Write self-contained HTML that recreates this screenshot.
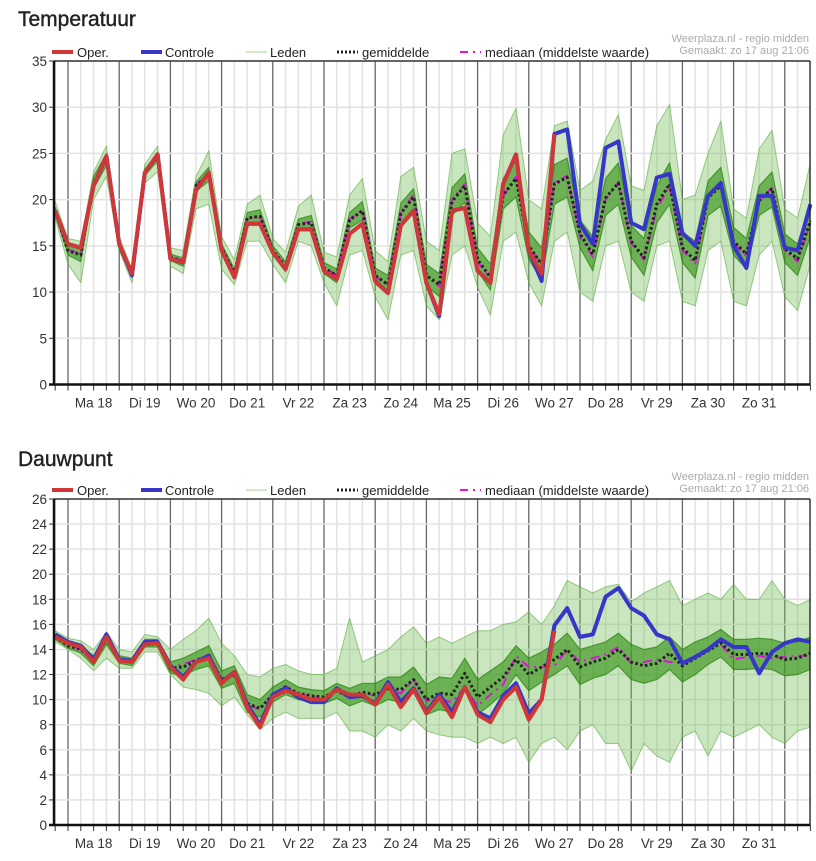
<!DOCTYPE html>
<html><head><meta charset="utf-8"><style>
body{margin:0;background:#fff;font-family:"Liberation Sans",sans-serif;}
svg text{font-family:"Liberation Sans",sans-serif;}
</style></head><body>
<svg id="s" width="816" height="856" xmlns="http://www.w3.org/2000/svg"></svg>
<script>
const days = ["Ma 18","Di 19","Wo 20","Do 21","Vr 22","Za 23","Zo 24","Ma 25","Di 26","Wo 27","Do 28","Vr 29","Za 30","Zo 31"];
const tempOper = [18.8,15.2,14.8,21.5,24.7,15.2,12.0,22.9,24.9,13.6,13.2,21.0,22.9,14.5,11.6,17.4,17.4,14.3,12.5,16.8,16.8,12.3,11.4,16.3,17.4,11.2,9.9,17.2,18.8,11.0,7.6,18.8,19.1,12.3,11.0,21.7,24.9,14.5,12.0,27.1];
const tempCtrl = [18.8,15.2,14.8,21.5,24.7,15.2,11.8,22.9,24.9,13.6,13.2,21.0,22.9,14.5,11.6,17.4,17.4,14.3,12.5,16.8,16.8,12.3,11.4,16.3,17.4,11.2,9.9,17.2,18.8,11.0,7.4,18.8,19.1,12.3,11.0,21.7,24.9,14.5,11.2,27.1,27.6,17.4,15.2,25.6,26.3,17.5,16.8,22.4,22.8,16.4,15.0,20.4,21.8,15.0,12.6,20.4,20.4,14.8,14.5,19.5];
const tempMean = [18.8,14.5,14.0,21.8,24.3,15.0,12.0,23.0,24.6,13.8,13.3,21.5,22.7,14.8,12.0,18.0,18.2,14.5,12.8,17.3,17.5,12.6,11.8,17.8,18.8,11.8,10.8,18.5,20.3,11.8,10.8,19.8,21.5,13.5,11.6,20.5,22.3,15.0,13.0,21.7,22.4,16.3,14.1,20.2,21.8,15.5,13.7,19.5,21.7,14.8,13.4,20.2,21.5,15.5,14.1,19.9,21.2,14.7,13.6,17.7];
const tempMedian = [18.8,14.6,14.1,21.8,24.4,15.0,12.0,23.0,24.7,13.8,13.4,21.6,22.8,14.8,12.0,17.9,18.2,14.5,12.8,17.4,17.6,12.7,11.8,17.9,18.9,11.7,10.7,18.6,20.5,11.7,10.6,20.0,21.7,13.3,11.4,20.4,22.5,15.1,12.9,21.8,22.6,16.0,13.8,20.0,21.9,15.3,13.5,19.0,21.5,14.6,13.0,20.3,21.6,15.3,13.9,19.8,21.3,14.5,13.3,17.5];
const tempMax = [19.8,15.8,15.5,23.0,25.8,16.0,12.5,23.8,25.8,14.8,14.5,22.5,25.3,16.0,13.5,19.5,20.5,15.8,14.3,19.3,20.5,14.3,13.8,20.5,22.3,14.5,13.3,22.5,23.5,15.5,14.5,25.0,25.5,17.5,16.0,27.0,29.9,20.0,19.0,28.0,28.5,21.0,22.0,26.5,29.2,21.5,21.0,28.0,30.3,20.0,20.5,25.0,28.5,19.0,18.0,25.5,27.5,19.0,18.0,24.0];
const tempMin = [18.0,13.0,11.0,20.0,22.5,14.5,11.0,21.8,23.0,12.8,12.0,19.0,19.5,12.5,10.8,15.5,15.5,13.0,11.0,15.5,15.0,11.0,8.5,14.0,14.5,9.5,7.0,14.0,14.5,8.5,7.0,14.0,15.0,10.5,7.5,15.5,16.5,11.0,8.5,15.5,16.5,10.0,9.0,15.0,15.5,10.0,9.0,15.0,15.5,9.0,8.5,14.5,15.5,9.0,8.5,14.0,15.5,9.5,8.0,13.0];
const tempHi = [19.2,15.0,14.7,22.5,25.0,15.5,12.3,23.3,25.0,14.1,13.7,21.9,23.5,15.2,12.5,18.6,18.9,15.0,13.3,17.9,18.3,13.2,12.5,18.6,19.8,12.6,11.8,19.6,21.2,13.0,12.0,21.3,22.8,14.8,13.0,22.3,24.3,16.5,14.8,23.8,24.5,17.8,16.0,22.3,24.0,17.2,15.8,21.5,24.0,16.5,15.5,22.0,23.5,17.0,15.8,21.5,23.0,16.3,15.2,19.5];
const tempLo = [18.4,14.0,13.3,21.2,23.7,14.7,11.6,22.6,24.2,13.4,12.8,20.9,22.0,14.2,11.4,17.3,17.4,14.0,12.2,16.7,16.6,12.0,11.0,16.9,17.8,10.9,9.7,17.3,18.8,10.7,9.5,18.3,19.7,12.3,10.2,19.0,20.3,13.5,11.3,19.5,20.3,14.8,12.3,18.3,19.5,13.8,11.8,17.5,19.5,13.2,11.5,18.3,19.3,14.0,12.5,18.3,19.2,13.2,11.8,16.0];
const dewOper = [15.0,14.5,14.2,13.0,15.0,13.1,13.0,14.4,14.5,12.6,11.6,13.0,13.3,11.3,12.2,9.4,7.8,10.2,10.7,10.4,10.0,10.0,10.8,10.4,10.4,9.6,11.2,9.4,10.8,8.9,10.2,8.6,11.0,8.8,8.2,10.0,11.0,8.4,10.0,15.5];
const dewCtrl = [15.2,14.6,14.3,13.2,15.2,13.2,13.1,14.6,14.6,12.7,11.8,13.0,13.5,11.4,12.2,9.6,8.0,10.4,10.9,10.2,9.8,9.8,10.9,10.2,10.3,9.7,11.4,9.8,10.9,9.0,10.4,9.0,11.0,9.0,8.5,10.3,11.3,8.9,10.0,15.9,17.3,15.0,15.2,18.2,18.9,17.3,16.7,15.2,14.8,12.9,13.4,14.0,14.8,14.2,14.2,12.1,13.8,14.5,14.8,14.6];
const dewMean = [15.0,14.3,14.0,13.1,14.8,13.2,13.0,14.5,14.5,12.5,12.6,13.1,13.5,11.6,12.0,9.7,9.3,10.4,11.0,10.5,10.3,10.2,10.7,10.2,10.6,10.4,10.9,10.8,11.6,10.0,10.5,10.4,12.1,10.2,11.0,11.8,13.2,12.0,12.6,13.2,14.0,12.6,13.0,13.3,14.0,13.0,12.7,12.9,13.7,12.7,13.3,13.9,14.5,13.6,13.6,13.7,13.6,13.2,13.3,13.7];
const dewMedian = [15.0,14.4,14.0,13.0,14.9,13.1,13.0,14.5,14.4,12.6,12.8,13.2,13.6,11.5,12.0,9.6,9.2,10.3,11.1,10.4,10.3,10.1,10.8,10.1,10.5,10.3,10.7,10.5,11.6,9.9,10.0,9.8,11.0,9.5,10.4,11.2,13.5,12.6,12.6,12.7,14.0,13.0,13.3,13.6,14.2,12.9,13.0,13.2,13.0,12.9,13.5,14.0,14.4,13.2,13.4,13.5,13.3,13.4,13.5,13.5];
const dewMax = [15.5,14.9,14.7,14.0,15.4,14.0,13.8,15.2,15.0,14.0,14.8,15.5,16.5,14.5,13.5,12.0,11.8,12.5,12.8,12.3,12.0,12.0,12.5,16.5,13.0,13.5,14.0,15.0,15.8,14.5,15.0,14.5,15.0,15.5,15.5,16.0,16.2,17.0,16.0,17.5,19.5,19.0,18.5,19.0,19.2,17.8,18.5,19.0,19.5,17.5,18.0,18.5,18.0,19.2,18.0,18.0,19.5,18.0,17.5,18.0];
const dewMin = [14.6,14.0,13.3,12.3,13.3,12.5,12.5,13.8,13.8,12.0,11.0,10.8,10.5,9.5,10.2,8.8,7.6,8.5,9.0,8.5,8.5,8.5,9.0,7.5,7.5,7.0,8.0,7.5,8.5,7.5,7.2,7.0,7.0,6.5,7.0,6.5,7.0,5.0,6.5,7.0,6.0,7.5,8.0,6.5,6.5,4.3,6.5,5.5,5.0,7.0,7.5,5.5,7.5,7.0,7.5,8.0,7.0,6.5,7.5,7.8];
const dewHi = [15.2,14.6,14.3,13.5,15.1,13.5,13.3,14.8,14.8,13.0,13.3,13.8,14.3,12.3,12.7,10.4,10.0,11.0,11.6,11.0,10.8,10.7,11.3,10.9,11.3,11.3,11.8,11.8,12.6,11.2,11.8,11.7,13.3,11.6,12.3,13.0,14.3,13.3,13.8,14.4,15.3,14.0,14.3,14.6,15.3,14.4,14.0,14.2,15.0,14.0,14.6,15.0,15.6,14.8,14.8,14.9,14.8,14.5,14.6,15.0];
const dewLo = [14.8,14.1,13.7,12.7,14.4,12.9,12.7,14.2,14.2,12.1,11.9,12.4,12.7,10.9,11.3,9.0,8.6,9.8,10.4,10.0,9.8,9.7,10.1,9.5,9.9,9.5,10.0,9.8,10.6,8.8,9.2,9.0,10.8,8.8,9.6,10.5,12.0,10.7,11.4,12.0,12.7,11.2,11.7,12.0,12.7,11.6,11.3,11.6,12.4,11.4,12.0,12.8,13.4,12.4,12.4,12.5,12.4,11.9,12.0,12.4];

const NS="http://www.w3.org/2000/svg";
const svg=document.getElementById('s');
function el(tag,attrs,parent){const e=document.createElementNS(NS,tag);for(const k in attrs)e.setAttribute(k,attrs[k]);(parent||svg).appendChild(e);return e;}
const X0=55.2, DX=12.8, L=54, R=810;
function xs(i){return X0+i*DX;}

function chart(cfg){
  const g=el('g',{});
  
  
  const top=cfg.top,bot=cfg.bot,vmax=cfg.vmax;
  const ys=v=>bot-(v/vmax)*(bot-top);
  const t=el('text',{x:18,y:cfg.titleY,'font-size':21,fill:'#222','stroke':'#222','stroke-width':0.4},g);t.textContent=cfg.title;
  
  
  const c1=el('text',{x:809,y:top-19,'font-size':11,fill:'#aaa','text-anchor':'end'},g);c1.textContent='Weerplaza.nl - regio midden';
  
  
  const c2=el('text',{x:809,y:top-7,'font-size':11,fill:'#aaa','text-anchor':'end'},g);c2.textContent='Gemaakt: zo 17 aug 21:06';
  
  
  const ly=top-9;
  const leg=[['Oper.',52,77,{stroke:'#d03838','stroke-width':4}],['Controle',141,165,{stroke:'#3636c8','stroke-width':4}],['Leden',246,270,{stroke:'#9fd08f','stroke-width':1}],['gemiddelde',337,362,{stroke:'#222','stroke-width':3,'stroke-dasharray':'2,2'}],['mediaan (middelste waarde)',460,485,{stroke:'#e010e0','stroke-width':2,'stroke-dasharray':'8,5,2,5'}]];
  leg.forEach(a=>{
    const lg=el('g',{},g);
    
    
    el('line',Object.assign({x1:a[1],x2:a[1]+21,y1:ly,y2:ly},a[3]),lg);
    const tx=el('text',{x:a[2],y:ly+5,'font-size':13,fill:'#222'},lg);tx.textContent=a[0];
  });
  for(let i=0;i<60;i++){const x=xs(i);const day=(i-1)%4===0;
    const ln=el('line',{x1:x,x2:x,y1:top,y2:bot,stroke:day?'#666':'#e2e2e2','stroke-width':day?1.3:1.5},g);
    
    
    el('line',{x1:x,x2:x,y1:bot,y2:bot+6,stroke:'#333','stroke-width':1},g);
  }
  for(let v=0;v<=vmax;v+=cfg.step){const y=ys(v);
    const ln=el('line',{x1:L,x2:R,y1:y,y2:y,stroke:'#e2e2e2','stroke-width':1.5},g);
    
    
    el('line',{x1:L-5,x2:L,y1:y,y2:y,stroke:'#333'},g);
    const tl=el('text',{x:L-7,y:y+5,'font-size':13.5,fill:'#333','text-anchor':'end'},g);tl.textContent=v;
    
    
  }
  days.forEach((d,k)=>{const tl=el('text',{x:xs(1+4*k)+25.6,y:bot+23,'font-size':13.5,fill:'#333','text-anchor':'middle'},g);tl.textContent=d;
    
    });
  function band(a,b,fill,name){let d='';a.forEach((v,i)=>{d+=(i?'L':'M')+xs(i)+','+ys(v);});for(let i=b.length-1;i>=0;i--)d+='L'+xs(i)+','+ys(b[i]);d+='Z';
    const p=el('path',{d:d,fill:fill,stroke:'none'},g);
    
    }
  band(cfg.max,cfg.min,'rgba(115,190,85,0.38)','member-envelope');
  band(cfg.hi,cfg.lo,'rgba(50,145,20,0.62)','member-core');
  function line(arr,attrs,name){let d='';arr.forEach((v,i)=>{d+=(i?'L':'M')+xs(i).toFixed(1)+','+ys(v).toFixed(1);});
    const p=el('path',Object.assign({d:d,fill:'none','stroke-linejoin':'round'},attrs),g);
    
    }
  [cfg.max,cfg.min].forEach(a=>line(a,{stroke:'rgba(80,165,50,0.55)','stroke-width':1},'member-line'));
  [cfg.hi,cfg.lo].forEach(a=>line(a,{stroke:'rgba(40,130,15,0.7)','stroke-width':1.2},'member-line'));
  line(cfg.median,{stroke:'#e010e0','stroke-width':2,'stroke-dasharray':'9,5,2,5'},'median-line');
  line(cfg.mean,{stroke:'#222','stroke-width':3,'stroke-dasharray':'2.5,2.5'},'mean-line');
  line(cfg.ctrl,{stroke:'#3636c8','stroke-width':4},'control-line');
  line(cfg.oper,{stroke:'#d03838','stroke-width':4},'oper-line');
  el('line',{x1:L,x2:R,y1:top,y2:top,stroke:'#111','stroke-width':1.2},g);
  el('line',{x1:R,x2:R,y1:top,y2:bot,stroke:'#111','stroke-width':1.2},g);
  const xa=el('line',{x1:L-5,x2:R,y1:bot,y2:bot,stroke:'#111','stroke-width':2.5},g);
  
  
  const ya=el('line',{x1:L,x2:L,y1:top,y2:bot,stroke:'#111','stroke-width':2.5},g);
  
  
}
chart({name:'temperature-chart',title:'Temperatuur',titleY:26,top:61,bot:384.5,vmax:35,step:5,oper:tempOper,ctrl:tempCtrl,mean:tempMean,median:tempMedian,max:tempMax,min:tempMin,hi:tempHi,lo:tempLo});
chart({name:'dewpoint-chart',title:'Dauwpunt',titleY:466,top:499,bot:825,vmax:26,step:2,oper:dewOper,ctrl:dewCtrl,mean:dewMean,median:dewMedian,max:dewMax,min:dewMin,hi:dewHi,lo:dewLo});
</script>
</body></html>
